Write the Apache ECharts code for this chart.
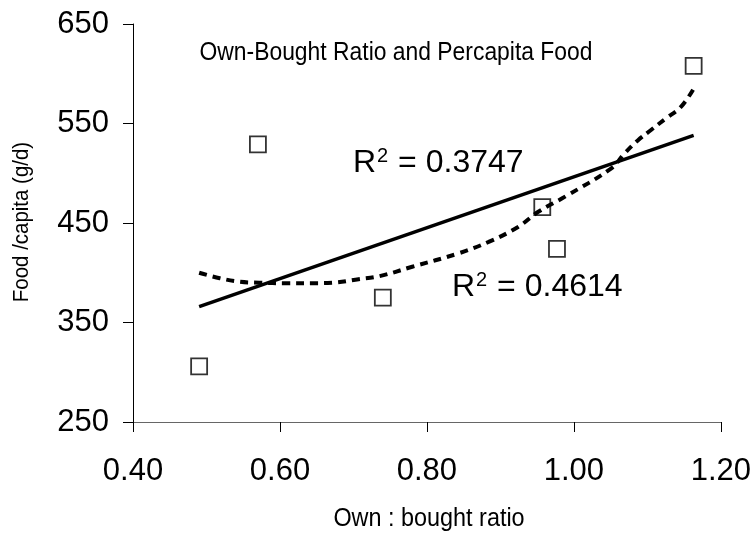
<!DOCTYPE html>
<html>
<head>
<meta charset="utf-8">
<script src="https://cdn.jsdelivr.net/npm/echarts@6/dist/echarts.min.js"></script>
<style>
  html, body { margin: 0; padding: 0; background: #fff; }
  #chart { width: 754px; height: 533px; }
</style>
</head>
<body>
<div id="chart"></div>
<script>
// Observed households: own-produced : bought ratio vs food per capita
const ratio = [0.49, 0.57, 0.74, 0.957, 0.977, 1.163];
const foodPerCapita = [306, 529, 375, 466, 424, 608];

// Linear trend end points
const linearX = [0.49, 1.163];
const linearY = [366, 538];

// Polynomial trend, sampled along its course
const polyX = [0.49, 0.518, 0.545, 0.572, 0.608, 0.644, 0.671, 0.707, 0.735, 0.78, 0.843, 0.884, 0.924, 0.951, 0.988, 1.051, 1.069, 1.087, 1.105, 1.125, 1.146, 1.163];
const polyY = [400, 394.5, 391, 390, 389.5, 389.5, 390, 393.5, 396.5, 406, 419.5, 431, 446, 461, 476.5, 505, 520, 533, 543.5, 555, 567, 585];

const xTicks = { min: 0.4, max: 1.2, step: 0.2 };
const yTicks = { min: 250, max: 650, step: 100 };

const titleText = 'Own-Bought Ratio and Percapita Food';
const xName = 'Own : bought ratio';
const yName = 'Food /capita (g/d)';
const r2Linear = '0.3747';
const r2Poly = '0.4614';

const pairs = (xs, ys) => xs.map((x, i) => [x, ys[i]]);

const sans = '"Liberation Sans", Arial, sans-serif';

const chart = echarts.init(document.getElementById('chart'));

// Condensed captions: regular sans squeezed along the reading direction
function caption(text, x, y, size, squeeze, rotation) {
  return {
    type: 'text',
    x: x,
    y: y,
    scaleX: squeeze,
    rotation: rotation || 0,
    z: 10,
    style: {
      text: text,
      fontFamily: sans,
      fontSize: size,
      fill: '#000',
      align: 'center',
      verticalAlign: 'middle'
    }
  };
}

function r2Text(value, left, top) {
  return {
    type: 'text',
    left: left,
    top: top,
    z: 10,
    style: {
      text: 'R{sup|2} = ' + value,
      fontFamily: sans,
      fontSize: 32,
      fill: '#000',
      rich: {
        sup: { fontFamily: sans, fontSize: 20, verticalAlign: 'top', padding: [0, 1, 14, 1] }
      }
    }
  };
}

chart.setOption({
  animation: false,
  backgroundColor: '#fff',
  grid: { left: 133, right: 31, top: 24, bottom: 111 },
  xAxis: {
    type: 'value',
    min: xTicks.min, max: xTicks.max, interval: xTicks.step,
    axisLine: { show: true, onZero: false, lineStyle: { color: '#666', width: 1 } },
    axisTick: { show: true, inside: false, length: 10, lineStyle: { color: '#000', width: 1 } },
    axisLabel: {
      margin: 34, fontFamily: sans, fontSize: 31, color: '#000',
      formatter: v => v.toFixed(2)
    },
    splitLine: { show: false }
  },
  yAxis: {
    type: 'value',
    min: yTicks.min, max: yTicks.max, interval: yTicks.step,
    axisLine: { show: true, onZero: false, lineStyle: { color: '#000', width: 1 } },
    axisTick: { show: true, inside: false, length: 10, lineStyle: { color: '#000', width: 1 } },
    axisLabel: { margin: 24, fontFamily: sans, fontSize: 31, color: '#000' },
    splitLine: { show: false }
  },
  graphic: [
    caption(titleText, 396, 53, 26, 0.88),
    caption(xName, 429, 519, 26, 0.9),
    caption(yName, 22, 222, 22, 0.93, Math.PI / 2),
    r2Text(r2Linear, 353, 146),
    r2Text(r2Poly, 452, 270)
  ],
  series: [
    {
      name: 'Households',
      type: 'scatter',
      data: pairs(ratio, foodPerCapita),
      symbol: 'rect',
      symbolSize: 16,
      itemStyle: { color: '#fff', borderColor: '#000', borderWidth: 1.8 },
      z: 2
    },
    {
      name: 'Linear trend',
      type: 'line',
      data: pairs(linearX, linearY),
      showSymbol: false,
      symbol: 'none',
      lineStyle: { color: '#000', width: 3.5, type: 'solid' },
      z: 3
    },
    {
      name: 'Polynomial trend',
      type: 'line',
      data: pairs(polyX, polyY),
      smooth: 0.4,
      showSymbol: false,
      symbol: 'none',
      lineStyle: { color: '#000', width: 4, type: [8, 6], cap: 'butt' },
      z: 4
    }
  ]
});
</script>
</body>
</html>
